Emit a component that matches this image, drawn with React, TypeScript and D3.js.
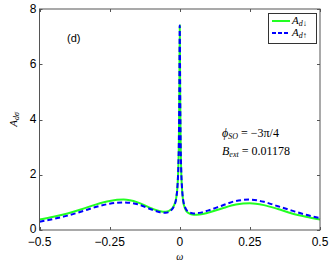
import React, { useEffect, useRef } from "react";
import * as d3 from "d3";

// frequency grid (omega) and the two spectral functions
const omega = [
  -0.5, -0.45, -0.4, -0.35, -0.3, -0.25, -0.2, -0.15, -0.1, -0.07, -0.05, -0.03,
  -0.02, -0.012, -0.008, -0.005, -0.003, -0.0015, 0, 0.0015, 0.003, 0.005, 0.008,
  0.012, 0.02, 0.03, 0.05, 0.07, 0.1, 0.15, 0.2, 0.25, 0.3, 0.35, 0.4, 0.45, 0.5,
];
const aDown = [
  0.38, 0.48, 0.6, 0.75, 0.92, 1.05, 1.1, 1.0, 0.78, 0.68, 0.66, 0.75, 0.9, 1.2,
  1.6, 2.3, 3.3, 5.0, 7.4, 5.0, 3.3, 2.2, 1.5, 1.05, 0.75, 0.62, 0.55, 0.56, 0.62,
  0.78, 0.92, 0.97, 0.9, 0.76, 0.6, 0.48, 0.38,
];
const aUp = [
  0.3, 0.4, 0.52, 0.67, 0.83, 0.95, 1.0, 0.93, 0.74, 0.64, 0.62, 0.72, 0.88, 1.18,
  1.6, 2.3, 3.3, 5.0, 7.4, 5.0, 3.3, 2.25, 1.55, 1.1, 0.8, 0.67, 0.6, 0.62, 0.7,
  0.88, 1.05, 1.1, 1.02, 0.86, 0.7, 0.55, 0.43,
];
const xTicks = [-0.5, -0.25, 0, 0.25, 0.5];
const xTickLabels = ["\u22120.5", "\u22120.25", "0", "0.25", "0.5"];
const yTicks = [0, 2, 4, 6, 8];

const W = 332;
const H = 262;
const margin = { left: 39.5, right: 12, top: 9, bottom: 32 };

export default function App() {
  const ref = useRef<SVGSVGElement>(null);

  useEffect(() => {
    const svg = d3.select(ref.current);
    svg.selectAll("*").remove();

    const x = d3.scaleLinear().domain([-0.5, 0.5]).range([margin.left, W - margin.right]);
    const y = d3.scaleLinear().domain([0, 8]).range([H - margin.bottom, margin.top]);
    const [x0, x1] = x.range();
    const [y0, y1] = y.range();

    svg.append("rect").attr("width", W).attr("height", H).attr("fill", "#fff");

    const line = (vals: number[]) =>
      d3
        .line<number>()
        .x((_, i) => x(omega[i]))
        .y((d) => y(d))
        .curve(d3.curveMonotoneX)(vals);

    svg
      .append("path")
      .attr("d", line(aDown))
      .attr("fill", "none")
      .attr("stroke", "#22ff22")
      .attr("stroke-width", 2);
    svg
      .append("path")
      .attr("d", line(aUp))
      .attr("fill", "none")
      .attr("stroke", "#0000ff")
      .attr("stroke-width", 2)
      .attr("stroke-dasharray", "5,3");

    // frame with inward ticks on all sides
    svg
      .append("rect")
      .attr("x", x0)
      .attr("y", y1)
      .attr("width", x1 - x0)
      .attr("height", y0 - y1)
      .attr("fill", "none")
      .attr("stroke", "#555")
      .attr("stroke-width", 1);

    const font = "'Liberation Sans', Arial, sans-serif";
    xTicks.forEach((t, i) => {
      const px = Math.round(x(t)) + 0.5;
      svg.append("line").attr("x1", px).attr("x2", px).attr("y1", y0).attr("y2", y0 - 3).attr("stroke", "#555");
      svg.append("line").attr("x1", px).attr("x2", px).attr("y1", y1).attr("y2", y1 + 3).attr("stroke", "#555");
      svg
        .append("text")
        .attr("x", x(t))
        .attr("y", y0 + 16)
        .attr("text-anchor", "middle")
        .attr("font-family", font)
        .attr("font-size", 12)
        .text(xTickLabels[i]);
    });
    yTicks.forEach((t) => {
      const py = Math.round(y(t)) + 0.5;
      svg.append("line").attr("x1", x0).attr("x2", x0 + 3).attr("y1", py).attr("y2", py).attr("stroke", "#555");
      svg.append("line").attr("x1", x1).attr("x2", x1 - 3).attr("y1", py).attr("y2", py).attr("stroke", "#555");
      svg
        .append("text")
        .attr("x", x0 - 3)
        .attr("y", y(t) + (t === 0 ? 2.5 : 3.5))
        .attr("text-anchor", "end")
        .attr("font-family", font)
        .attr("font-size", 12)
        .text(t);
    });

    // axis labels
    const serif = "'Liberation Serif', 'DejaVu Serif', serif";
    svg
      .append("text")
      .attr("x", (x0 + x1) / 2)
      .attr("y", H - 2)
      .attr("text-anchor", "middle")
      .attr("font-family", serif)
      .attr("font-style", "italic")
      .attr("font-size", 10)
      .text("\u03c9");
    const yl = svg
      .append("text")
      .attr("transform", `translate(17,${(y0 + y1) / 2}) rotate(-90)`)
      .attr("text-anchor", "middle")
      .attr("font-family", serif)
      .attr("font-style", "italic")
      .attr("font-size", 11);
    yl.append("tspan").text("A");
    yl.append("tspan").attr("font-size", 8).attr("dy", 2).text("d\u03c3");

    svg
      .append("text")
      .attr("x", 67)
      .attr("y", 42)
      .attr("font-family", font)
      .attr("font-size", 11)
      .text("(d)");

    // annotations
    const phi = svg
      .append("text")
      .attr("x", 222)
      .attr("y", 137)
      .attr("font-family", serif)
      .attr("font-size", 12);
    phi.append("tspan").attr("font-style", "italic").text("\u03d5");
    phi.append("tspan").attr("font-style", "italic").attr("font-size", 8).attr("dy", 2).text("SO");
    phi.append("tspan").attr("dy", -2).text(" = \u22123\u03c0/4");
    const b = svg
      .append("text")
      .attr("x", 222)
      .attr("y", 155)
      .attr("font-family", serif)
      .attr("font-size", 12);
    b.append("tspan").attr("font-style", "italic").text("B");
    b.append("tspan").attr("font-style", "italic").attr("font-size", 8).attr("dy", 2).text("ext");
    b.append("tspan").attr("dy", -2).text(" = 0.01178");

    // legend
    svg
      .append("rect")
      .attr("x", 268.5)
      .attr("y", 13.5)
      .attr("width", 48)
      .attr("height", 30)
      .attr("fill", "#fff")
      .attr("stroke", "#333");
    const items = [
      { label: "d\u2193", color: "#22ff22", dash: null, yy: 21 },
      { label: "d\u2191", color: "#0000ff", dash: "4,2", yy: 33 },
    ];
    items.forEach((it) => {
      svg
        .append("line")
        .attr("x1", 272)
        .attr("x2", 290)
        .attr("y1", it.yy)
        .attr("y2", it.yy)
        .attr("stroke", it.color)
        .attr("stroke-width", 2)
        .attr("stroke-dasharray", it.dash);
      const t = svg
        .append("text")
        .attr("x", 292)
        .attr("y", it.yy + 3)
        .attr("font-family", serif)
        .attr("font-style", "italic")
        .attr("font-size", 11);
      t.append("tspan").text("A");
      t.append("tspan").attr("font-size", 8).attr("dy", 2).text(it.label);
    });
  }, []);

  return (
    <svg
      ref={ref}
      width={W}
      height={H}
      style={{ position: "absolute", left: 0, top: 0 }}
    />
  );
}
